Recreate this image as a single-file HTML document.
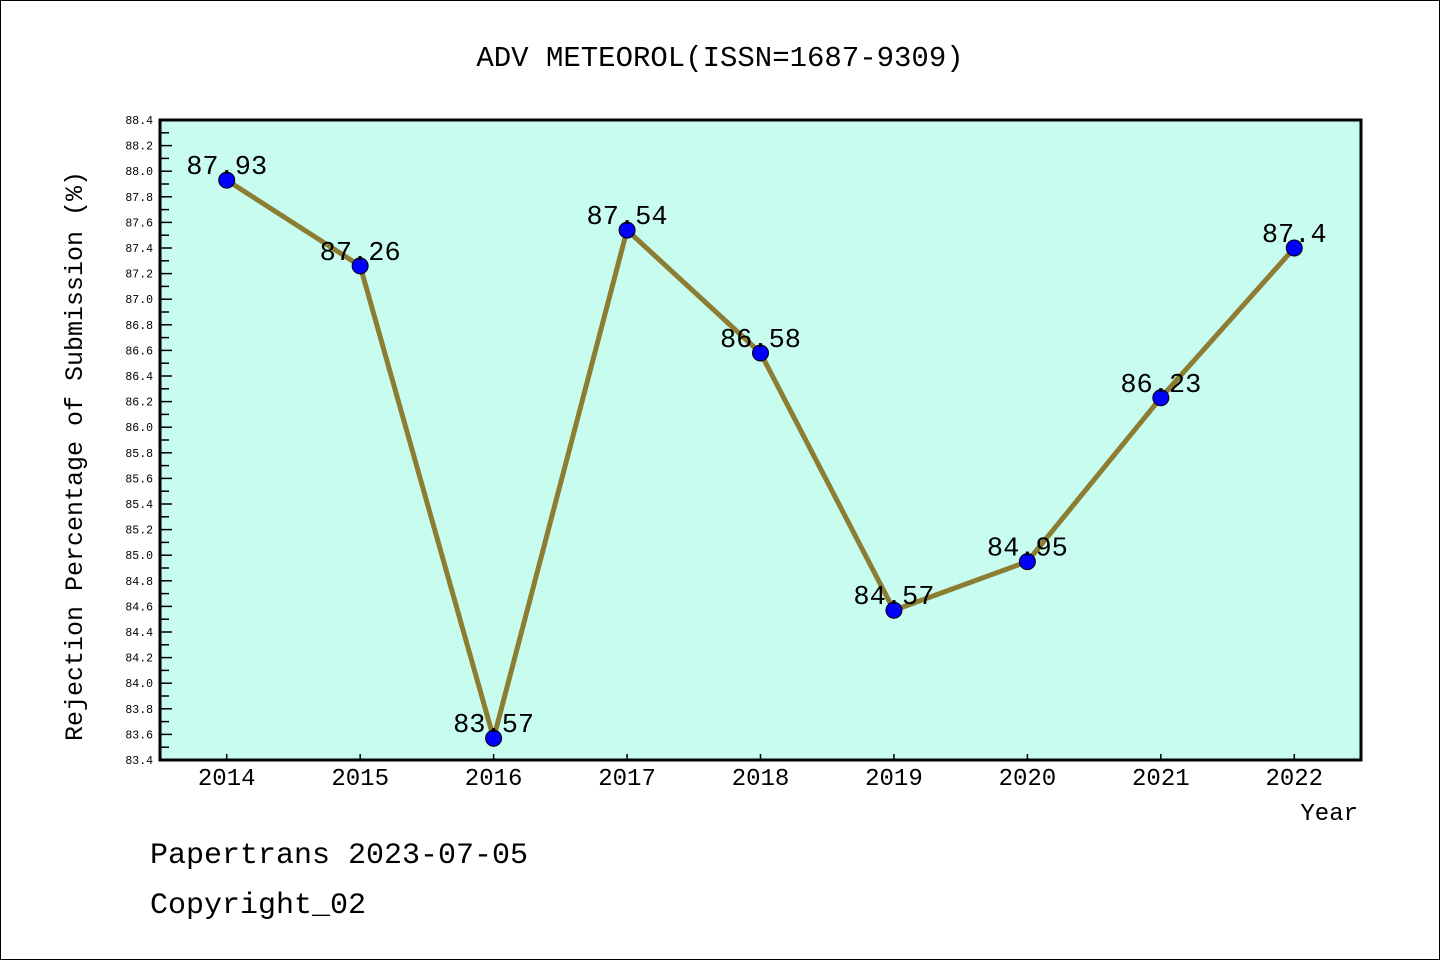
<!DOCTYPE html>
<html><head><meta charset="utf-8"><style>
html,body{margin:0;padding:0;background:#fff}
svg{display:block}
text{font-family:"Liberation Mono","WenQuanYi Zen Hei",monospace;fill:#000}
</style></head><body>
<svg id="c" width="1440" height="960">
<rect x="0.5" y="0.5" width="1439" height="959" fill="#fff" stroke="#000"/>
<text x="720" y="66" font-size="29" text-anchor="middle">ADV METEOROL(ISSN=1687-9309)</text>
<rect x="160" y="120" width="1201" height="640" fill="#c8fcee"/>
<g id="grid"></g>
<g id="series"></g>
<rect x="160" y="120" width="1201" height="640" fill="none" stroke="#000" stroke-width="3"/>
<text x="82" y="456" font-size="25" text-anchor="middle" transform="rotate(-90 82 456)">Rejection Percentage of Submission (%)</text>
<text x="1358" y="820" font-size="24" text-anchor="end">Year</text>
<text x="150" y="863" font-size="30">Papertrans 2023-07-05</text>
<text x="150" y="913" font-size="30">Copyright_02</text>
</svg>
<script>
const years=["2014","2015","2016","2017","2018","2019","2020","2021","2022"];
const values=[87.93,87.26,83.57,87.54,86.58,84.57,84.95,86.23,87.4];
const labels=["87.93","87.26","83.57","87.54","86.58","84.57","84.95","86.23","87.4"];
const yMin=83.4,yMax=88.4;
const NS="http://www.w3.org/2000/svg";
const L=160,R=1361,T=120,B=760;
function xs(i){return L+(i+0.5)*(R-L)/years.length;}
function ys(v){return B-(v-yMin)/(yMax-yMin)*(B-T);}
function mk(t,a,p){const e=document.createElementNS(NS,t);for(const k in a)e.setAttribute(k,a[k]);p.appendChild(e);return e;}
const g=document.getElementById('grid');
for(let k=0;k<=50;k++){const v=yMin+k*0.1;const y=ys(v);const major=k%2===0;
const tk=mk('line',{x1:L,x2:L+(major?12:9),y1:y,y2:y,stroke:'#000','stroke-width':1.5},g);


if(major){const t=mk('text',{x:153,y:y+4,'font-size':11.5,'text-anchor':'end','font-family':'Liberation Sans, sans-serif'},g);t.textContent=v.toFixed(1);

}}
years.forEach((yr,i)=>{const x=xs(i);
const tk=mk('line',{x1:x,x2:x,y1:B,y2:B-6,stroke:'#000','stroke-width':1.5},g);


const t=mk('text',{x:x,y:785,'font-size':24,'text-anchor':'middle'},g);t.textContent=yr;

});
const s=document.getElementById('series');
const pl=mk('polyline',{points:values.map((v,i)=>xs(i)+','+ys(v)).join(' '),fill:'none',stroke:'#8c7d32','stroke-width':5,'stroke-linejoin':'round'},s);


values.forEach((v,i)=>{const c=mk('circle',{cx:xs(i),cy:ys(v),r:8,fill:'#0000ff',stroke:'#000','stroke-width':1},s);


const t=mk('text',{x:xs(i),y:ys(v)-6,'font-size':27,'text-anchor':'middle'},s);t.textContent=labels[i];

});
</script>
</body></html>
